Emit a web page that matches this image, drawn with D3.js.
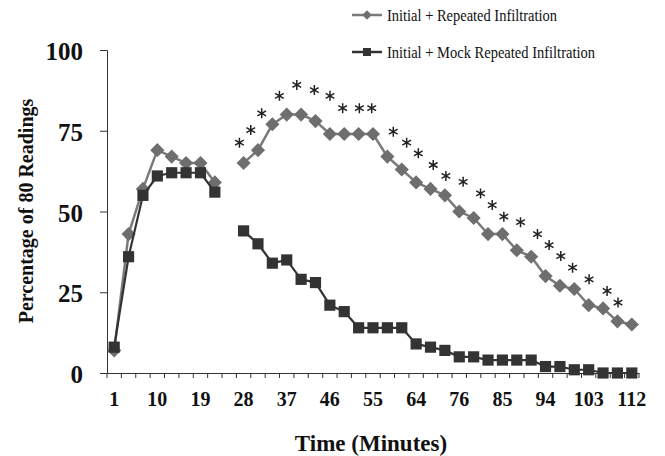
<!DOCTYPE html>
<html>
<head>
<meta charset="utf-8">
<script src="https://cdn.jsdelivr.net/npm/d3@7"></script>
<style>
  body { margin: 0; background: #fff; }
  text { font-family: "Liberation Serif", "Times New Roman", serif; fill: #111; }
  .tick-label { font-weight: bold; }
</style>
</head>
<body>
<div id="chart"></div>
<script>
// sampling times (minutes) - one missing reading at 25 and a 6 min step after 70
var categories = [1, 4, 7, 10, 13, 16, 19, 22, 25, 28, 31, 34, 37, 40, 43, 46, 49, 52, 55, 58, 61, 64, 67, 70,
  76, 79, 82, 85, 88, 91, 94, 97, 100, 103, 106, 109, 112];
var xTickLabels = [1, 10, 19, 28, 37, 46, 55, 64, 76, 85, 94, 103, 112];
var yTickValues = [0, 25, 50, 75, 100];

var repeatedInfiltration = [7, 43, 57, 69, 67, 65, 65, 59, null, 65, 69, 77, 80, 80, 78, 74, 74, 74, 74, 67, 63,
  59, 57, 55, 50, 48, 43, 43, 38, 36, 30, 27, 26, 21, 20, 16, 15];
var mockInfiltration = [8, 36, 55, 61, 62, 62, 62, 56, null, 44, 40, 34, 35, 29, 28, 21, 19, 14, 14, 14, 14,
  9, 8, 7, 5, 5, 4, 4, 4, 4, 2, 2, 1, 1, 0, 0, 0];

// significance asterisks: position along the category axis (index) and height in %
var starIndex = [8.71, 9.5, 10.26, 11.49, 12.7, 13.92, 15.01, 15.89, 17.05, 17.91, 19.41, 20.34, 21.15, 22.19,
  23.07, 24.27, 25.48, 26.29, 27.1, 28.26, 29.44, 30.25, 31.06, 31.88, 33.03, 34.28, 35.04];
var starValue = [71.3, 75.2, 80.4, 85.8, 89.2, 87.6, 85.8, 82, 82, 82, 74.7, 71.3, 68, 64.4, 61, 59.2, 55.6,
  52, 48.4, 46.7, 43, 39.6, 36.2, 32.6, 29, 25.4, 21.8];

var legendLabels = ["Initial + Repeated Infiltration", "Initial + Mock Repeated Infiltration"];

var svgWidth = 665;
var svgHeight = 456;

var margin = {
  top: 50,
  right: 26,
  bottom: 83,
  left: 107
};

var width = svgWidth - margin.left - margin.right;
var height = svgHeight - margin.top - margin.bottom;

var svg = d3.select("#chart")
  .append("svg")
  .attr("width", svgWidth)
  .attr("height", svgHeight);

var chartGroup = svg.append("g")
  .attr("transform", `translate(${margin.left}, ${margin.top})`);

// scales
var xBandScale = d3.scaleBand()
  .domain(categories)
  .range([0, width])
  .padding(0);
var bw = xBandScale.bandwidth();
var xIndexScale = d3.scaleLinear()
  .domain([0, categories.length])
  .range([0, width]);
var yLinearScale = d3.scaleLinear()
  .domain([0, 100])
  .range([height, 0]);

var xCenter = i => xBandScale(categories[i]) + bw / 2;

// y axis
var leftAxis = d3.axisLeft(yLinearScale)
  .tickValues(yTickValues)
  .tickSize(7)
  .tickPadding(17);
var yAxis = chartGroup.append("g").call(leftAxis);
yAxis.select(".domain").attr("stroke", "#333");
yAxis.selectAll(".tick line").attr("stroke", "#333");
yAxis.selectAll(".tick text")
  .attr("class", "tick-label")
  .attr("dy", "0.38em")
  .style("font-family", "'Liberation Serif', serif")
  .style("font-size", "25px")
  .attr("fill", "#111");

// x axis: labels under every third category, tick marks on band edges
var bottomAxis = d3.axisBottom(xBandScale)
  .tickValues(xTickLabels)
  .tickSize(0)
  .tickPadding(26);
var xAxis = chartGroup.append("g")
  .attr("transform", `translate(0, ${height})`)
  .call(bottomAxis);
xAxis.select(".domain").attr("stroke", "#333");
xAxis.selectAll(".tick text")
  .attr("class", "tick-label")
  .attr("dy", "0.35em")
  .style("font-family", "'Liberation Serif', serif")
  .style("font-size", "20px")
  .attr("fill", "#111");

var edges = categories.map(c => xBandScale(c)).concat([width]);
xAxis.selectAll("line.edge")
  .data(edges)
  .enter()
  .append("line")
  .attr("class", "edge")
  .attr("x1", d => d)
  .attr("x2", d => d)
  .attr("y1", 0)
  .attr("y2", 5)
  .attr("stroke", "#333");

// lines
var lineGen = d3.line()
  .defined(d => d != null)
  .x((d, i) => xCenter(i))
  .y(d => yLinearScale(d));

chartGroup.append("path")
  .datum(repeatedInfiltration)
  .attr("d", lineGen)
  .attr("fill", "none")
  .attr("stroke", "#7a7a7a")
  .attr("stroke-width", 2.5);

var diamond = d3.symbol().type(d3.symbolSquare).size(100);
chartGroup.selectAll("path.diamond")
  .data(repeatedInfiltration.map((v, i) => ({v: v, i: i})).filter(d => d.v != null))
  .enter()
  .append("path")
  .attr("class", "diamond")
  .attr("d", diamond)
  .attr("transform", d => `translate(${xCenter(d.i)}, ${yLinearScale(d.v)}) rotate(45)`)
  .attr("fill", "#6e6e6e");

chartGroup.append("path")
  .datum(mockInfiltration)
  .attr("d", lineGen)
  .attr("fill", "none")
  .attr("stroke", "#333")
  .attr("stroke-width", 2.2);

var square = d3.symbol().type(d3.symbolSquare).size(125);
chartGroup.selectAll("path.square")
  .data(mockInfiltration.map((v, i) => ({v: v, i: i})).filter(d => d.v != null))
  .enter()
  .append("path")
  .attr("class", "square")
  .attr("d", square)
  .attr("transform", d => `translate(${xCenter(d.i)}, ${yLinearScale(d.v)})`)
  .attr("fill", "#333");

// asterisks
var starSymbol = d3.symbol().type(d3.symbolAsterisk || d3.symbolCross).size(70);
chartGroup.selectAll("path.star")
  .data(starIndex.map((v, i) => ({x: v, y: starValue[i]})))
  .enter()
  .append("path")
  .attr("class", "star")
  .attr("d", starSymbol)
  .attr("transform", d => `translate(${xIndexScale(d.x + 0.5)}, ${yLinearScale(d.y)})`)
  .attr("fill", "none")
  .attr("stroke", "#222")
  .attr("stroke-width", 1.5);

// axis titles
svg.append("text")
  .attr("x", 371)
  .attr("y", 451)
  .attr("text-anchor", "middle")
  .style("font-weight", "bold")
  .style("font-size", "23px")
  .text("Time (Minutes)");

svg.append("text")
  .attr("transform", "translate(26, 211) rotate(-90)")
  .attr("text-anchor", "middle")
  .attr("dy", "0.35em")
  .style("font-weight", "bold")
  .style("font-size", "20px")
  .text("Percentage of 80 Readings");

// legend
var legendGroup = svg.append("g").attr("transform", "translate(352, 15)");
var legendRows = [
  {label: legendLabels[0], y: 0, stroke: "#7a7a7a", fill: "#6e6e6e", len: 170, sym: d3.symbol().type(d3.symbolSquare).size(45), rot: 45},
  {label: legendLabels[1], y: 37, stroke: "#333", fill: "#333", len: 208, sym: d3.symbol().type(d3.symbolSquare).size(64), rot: 0}
];
legendRows.forEach(function(r) {
  legendGroup.append("line")
    .attr("x1", 0).attr("x2", 30)
    .attr("y1", r.y).attr("y2", r.y)
    .attr("stroke", r.stroke)
    .attr("stroke-width", 2.5);
  legendGroup.append("path")
    .attr("d", r.sym)
    .attr("transform", `translate(15, ${r.y}) rotate(${r.rot})`)
    .attr("fill", r.fill);
  legendGroup.append("text")
    .attr("x", 35)
    .attr("y", r.y + 5.5)
    .attr("textLength", r.len)
    .attr("lengthAdjust", "spacingAndGlyphs")
    .style("font-size", "17px")
    .text(r.label);
});
</script>
</body>
</html>
